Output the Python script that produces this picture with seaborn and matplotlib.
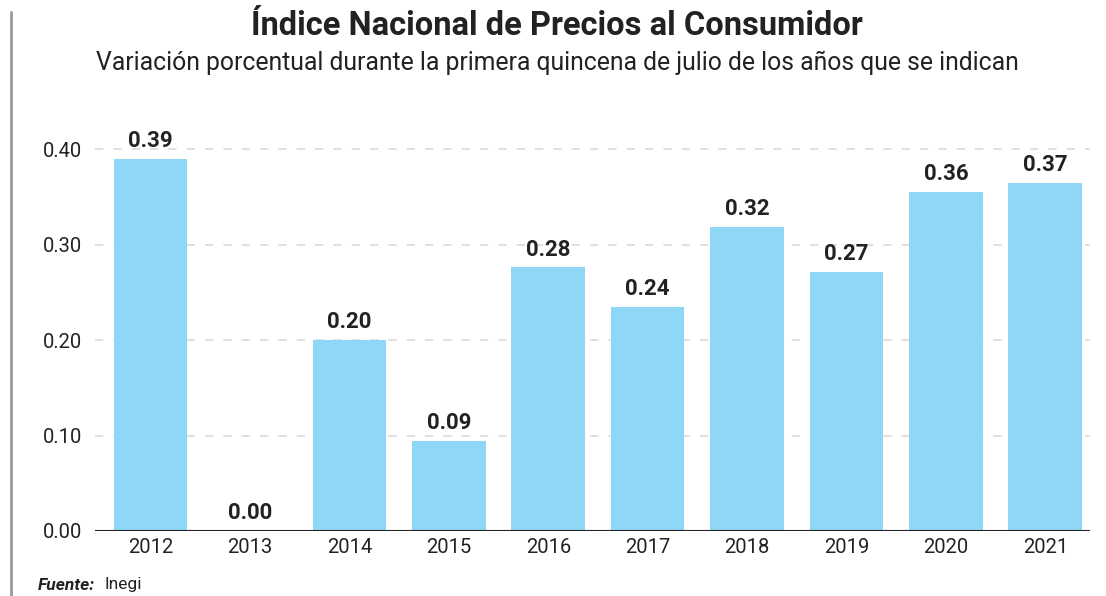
import matplotlib
matplotlib.use("Agg")
import matplotlib.pyplot as plt
import seaborn as sns
import pandas as pd
from matplotlib.lines import Line2D

years = ["2012", "2013", "2014", "2015", "2016", "2017", "2018", "2019", "2020", "2021"]
values = [0.39, 0.0, 0.20, 0.094, 0.276, 0.235, 0.318, 0.271, 0.355, 0.365]
labels = ["0.39", "0.00", "0.20", "0.09", "0.28", "0.24", "0.32", "0.27", "0.36", "0.37"]
yticks = [0.0, 0.1, 0.2, 0.3, 0.4]

sns.set_theme(style="white")
plt.rcParams['font.family'] = ['Roboto', 'DejaVu Sans']

df = pd.DataFrame({"year": years, "value": values})

fig = plt.figure(figsize=(11.06, 5.96), dpi=100)
ax = fig.add_axes([95/1106, 1-531/596, (1090-95)/1106, (531-130)/596])

sns.barplot(data=df, x="year", y="value", color="#8ED7F6", width=0.74,
            saturation=1, linewidth=0, ax=ax, zorder=2)

ax.set_xlim(-0.56, 9.45)
ax.set_ylim(0, 0.42)
ax.set_yticks(yticks)
ax.set_yticklabels([f"{t:.2f}" for t in yticks])
for t in yticks[1:]:
    ax.axhline(t, color="#dadada", lw=1.2, ls=(0, (5, 6)), zorder=1)
ax.axhline(0, color="#222222", lw=1.5, zorder=3)

for s in ax.spines.values():
    s.set_visible(False)
ax.set_xlabel("")
ax.set_ylabel("")
ax.tick_params(axis="both", length=0, labelsize=14.5, colors="#222222")
ax.tick_params(axis="x", pad=5)
ax.tick_params(axis="y", pad=9)

for i, (v, lab) in enumerate(zip(values, labels)):
    ax.annotate(lab, (i, v), xytext=(0, 5), textcoords="offset points",
                ha="center", va="bottom", fontsize=16, fontweight="bold",
                color="#222222", clip_on=False)

fig.text(557/1106, 1-26/596, "Índice Nacional de Precios al Consumidor",
         ha="center", va="center", fontsize=23.5, fontweight="bold", color="#222222")
fig.text(557/1106, 1-63/596, "Variación porcentual durante la primera quincena de julio de los años que se indican",
         ha="center", va="center", fontsize=17.8, color="#222222")

fig.text(38/1106, 1-585/596, "Fuente:", ha="left", va="center", fontsize=12.5,
         fontweight="bold", fontstyle="italic", color="#222222")
fig.text(104/1106, 1-585/596, "Inegi", ha="left", va="center", fontsize=12.5, color="#222222")

fig.add_artist(Line2D([11/1106, 11/1106], [0, 1-12/596], color="#9a9a9a", lw=2))

fig.savefig("out.png", dpi=100)
